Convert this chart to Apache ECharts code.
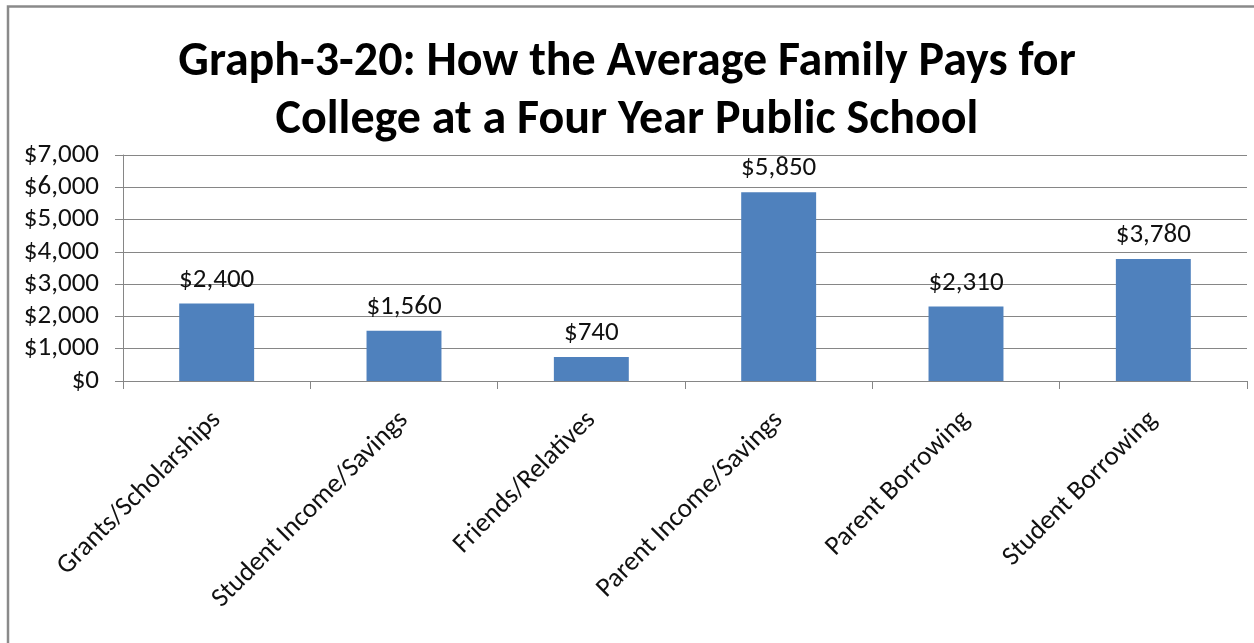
<!DOCTYPE html>
<html>
<head>
<meta charset="utf-8">
<script src="https://cdn.jsdelivr.net/npm/echarts@6/dist/echarts.min.js"></script>
<style>
  html, body { margin: 0; padding: 0; background: #fff; }
  #chart { width: 1254px; height: 643px; }
</style>
</head>
<body>
<div id="chart"></div>
<script>
// Funding sources and average amounts (USD)
const categories = [
  'Grants/Scholarships',
  'Student Income/Savings',
  'Friends/Relatives',
  'Parent Income/Savings',
  'Parent Borrowing',
  'Student Borrowing'
];
const amounts = [2400, 1560, 740, 5850, 2310, 3780];
const titleLines = [
  'Graph-3-20: How the Average Family Pays for',
  'College at a Four Year Public School'
];

const FONT = "Carlito, 'Liberation Sans Narrow', 'Open Sans', sans-serif";
const money = v => '$' + Number(v).toLocaleString('en-US');

const chart = echarts.init(document.getElementById('chart'), null, { renderer: 'canvas' });

chart.setOption({
  animation: false,
  backgroundColor: '#ffffff',
  graphic: [{
    type: 'rect',
    shape: { x: 8, y: 6.5, width: 1400, height: 800 },
    style: { fill: 'none', stroke: '#8a8a8a', lineWidth: 2.5 },
    silent: true
  }],
  title: {
    text: titleLines.join('\n'),
    left: 'center',
    top: 29,
    textStyle: {
      fontFamily: FONT,
      fontWeight: 'bold',
      fontSize: 48,
      lineHeight: 58,
      color: '#000'
    }
  },
  grid: { left: 123, right: 7, top: 155, bottom: 262, containLabel: false },
  xAxis: {
    type: 'category',
    data: categories,
    axisLine: { lineStyle: { color: '#868686', width: 1 } },
    axisTick: { show: true, length: 8, alignWithLabel: false, lineStyle: { color: '#868686' } },
    axisLabel: {
      rotate: 45,
      margin: 35,
      interval: 0,
      fontFamily: FONT,
      fontSize: 27,
      color: '#111'
    },
    splitLine: { show: false }
  },
  yAxis: {
    type: 'value',
    min: 0,
    max: 7000,
    interval: 1000,
    axisLine: { show: true, lineStyle: { color: '#868686', width: 1 } },
    axisTick: { show: true, length: 8, lineStyle: { color: '#868686' } },
    axisLabel: {
      margin: 24,
      fontFamily: FONT,
      fontSize: 27,
      color: '#111',
      formatter: money
    },
    splitLine: { show: true, lineStyle: { color: '#868686', width: 1 } }
  },
  series: [{
    type: 'bar',
    data: amounts,
    barWidth: '40%',
    itemStyle: { color: '#4F81BD' },
    label: {
      show: true,
      position: 'top',
      distance: 10,
      fontFamily: FONT,
      fontSize: 27,
      color: '#111',
      formatter: p => money(p.value)
    }
  }]
});
</script>
</body>
</html>
